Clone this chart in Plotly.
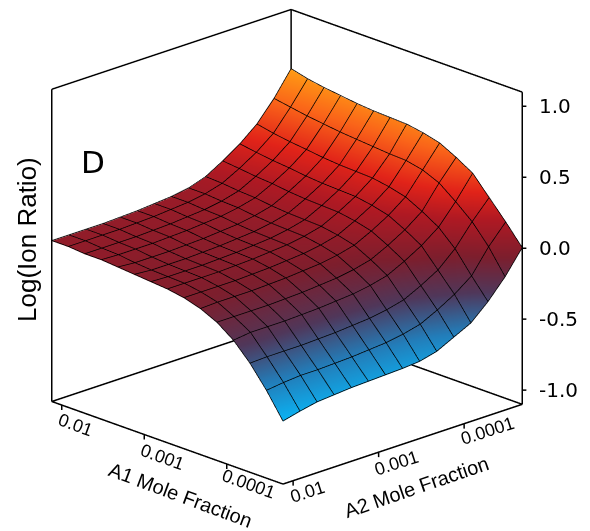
import numpy as np
import plotly.graph_objects as go

A1_LOG = [-1.88,-2.08,-2.28,-2.48,-2.68,-2.88,-3.08,-3.28,-3.48,-3.68,-3.88,-4.08,-4.28,-4.48,-4.68]
A2_LOG = [-1.88,-2.08,-2.28,-2.48,-2.68,-2.88,-3.08,-3.28,-3.48,-3.68,-3.88,-4.08,-4.28,-4.48,-4.68]
# rows: A1 index, columns: A2 index
LOG_RATIO = [
 [.03,.03,.03,.03,.035,.04,.05,.06,.08,.12,.19,.27,.37,.51,.68],
 [.03,.03,.03,.03,.035,.04,.05,.06,.08,.114,.178,.252,.346,.49,.65],
 [.02,.02,.02,.02,.025,.03,.04,.05,.07,.102,.164,.236,.328,.47,.63],
 [.02,.015,.015,.015,.02,.025,.035,.045,.065,.095,.155,.225,.315,.455,.615],
 [.01,0,0,0,.005,.01,.02,.03,.05,.08,.14,.21,.30,.44,.60],
 [0,-.01,-.01,-.01,-.005,0,.01,.02,.04,.07,.13,.20,.29,.43,.59],
 [-.01,-.015,-.015,-.015,-.01,-.005,.005,.015,.035,.065,.125,.195,.285,.42,.585],
 [-.02,-.02,-.02,-.02,-.015,-.01,0,.01,.03,.06,.12,.19,.28,.41,.58],
 [-.04,-.04,-.04,-.04,-.035,-.03,-.02,-.01,.01,.04,.10,.17,.26,.405,.56],
 [-.075,-.07,-.07,-.07,-.065,-.06,-.05,-.04,-.02,.01,.07,.14,.23,.38,.53],
 [-.13,-.13,-.13,-.13,-.125,-.12,-.11,-.10,-.08,-.05,.01,.08,.17,.33,.47],
 [-.215,-.20,-.20,-.20,-.195,-.19,-.18,-.17,-.15,-.12,-.06,.01,.10,.24,.40],
 [-.335,-.33,-.33,-.33,-.325,-.32,-.31,-.30,-.28,-.25,-.19,-.12,-.01,.14,.27],
 [-.485,-.47,-.46,-.46,-.455,-.45,-.44,-.43,-.41,-.38,-.32,-.25,-.16,.005,.14],
 [-.66,-.63,-.605,-.595,-.585,-.58,-.575,-.57,-.56,-.53,-.47,-.41,-.30,-.165,0],
]
TICK_VALS = [-2,-3,-4]
TICK_TEXT = ["0.01","0.001","0.0001"]
Z_TICKS = [-1,-.5,0,.5,1]
Z_TEXT = ["-1.0","-0.5","0.0","0.5","1.0"]
XR = [-4.68,-1.88]; YR = [-4.68,-1.88]; ZR = [-1.1,1.1]
PAD_XY = .03; PAD_Z = .04; Z_TICK_XY = .025; XY_TICK_Z = .035; LIFT = .004
ZOOM = 1.253

COLORS = [[0,"rgb(8,185,250)"],[.17,"rgb(35,125,185)"],[.316,"rgb(80,55,90)"],[.463,"rgb(125,30,45)"],
          [.61,"rgb(175,25,35)"],[.72,"rgb(225,35,25)"],[.868,"rgb(250,100,25)"],[1,"rgb(255,155,20)"]]

z = np.array(LOG_RATIO).T
fig = go.Figure()
fig.add_trace(go.Surface(x=A1_LOG, y=A2_LOG, z=z, colorscale=COLORS, cmin=-.68, cmax=.68, showscale=False,
    lighting=dict(ambient=1,diffuse=0,specular=0,roughness=1,fresnel=0), hoverinfo="skip"))

# mesh lines follow the same grid as the surface
gx,gy,gz=[],[],[]
for i,a1 in enumerate(A1_LOG):
    gx+=[a1]*len(A2_LOG)+[None]; gy+=A2_LOG+[None]; gz+=[v+LIFT for v in LOG_RATIO[i]]+[None]
for j,a2 in enumerate(A2_LOG):
    gx+=A1_LOG+[None]; gy+=[a2]*len(A1_LOG)+[None]; gz+=[row[j]+LIFT for row in LOG_RATIO]+[None]
fig.add_trace(go.Scatter3d(x=gx,y=gy,z=gz,mode="lines",line=dict(color="black",width=1.5),hoverinfo="skip",showlegend=False))

x0,x1=XR; y0,y1=YR; z0,z1=ZR
L=(x1,y1); B=(x1,y0); R=(x0,y0); F=(x0,y1)
segs=[(L,z0,L,z1),(B,z0,B,z1),(R,z0,R,z1),(L,z1,B,z1),(B,z1,R,z1),(L,z0,B,z0),(B,z0,R,z0),(L,z0,F,z0),(F,z0,R,z0)]
for v in TICK_VALS:
    segs.append(((v,y1),z0,(v,y1),z0-XY_TICK_Z))
    segs.append(((x0,v),z0,(x0,v),z0-XY_TICK_Z))
for v in Z_TICKS:
    segs.append((R,v,(x0-Z_TICK_XY,y0-Z_TICK_XY),v))
bx,by,bz=[],[],[]
for a,za,b,zb in segs:
    bx+=[a[0],b[0],None]; by+=[a[1],b[1],None]; bz+=[za,zb,None]
fig.add_trace(go.Scatter3d(x=bx,y=by,z=bz,mode="lines",line=dict(color="black",width=3),hoverinfo="skip",showlegend=False))

anns=[]
tf=dict(family="Liberation Sans",size=18,color="black")
A1_SHIFT=[(14,-20),(18,-22),(22,-20)]
A2_SHIFT=[(14,-11),(18,-11),(23,-7)]
for v,t,s1,s2 in zip(TICK_VALS,TICK_TEXT,A1_SHIFT,A2_SHIFT):
    anns.append(dict(x=v,y=y1,z=z0,text=t,showarrow=False,textangle=20,font=tf,xshift=s1[0],yshift=s1[1]))
    anns.append(dict(x=x0,y=v,z=z0,text=t,showarrow=False,textangle=-18,font=tf,xshift=s2[0],yshift=s2[1]))
for v,t in zip(Z_TICKS,Z_TEXT):
    anns.append(dict(x=x0,y=y0,z=v,text=t,showarrow=False,xanchor="left",xshift=15,font=dict(family="DejaVu Sans",size=20,color="black")))
anns.append(dict(x=-3.28,y=y1,z=z0,text="A1 Mole Fraction",showarrow=False,textangle=20.5,font=dict(family="Liberation Sans",size=20,color="black"),xshift=13,yshift=-52))
anns.append(dict(x=x0,y=-3.28,z=z0,text="A2 Mole Fraction",showarrow=False,textangle=-19,font=dict(family="Liberation Sans",size=20,color="black"),xshift=14,yshift=-43))

DIR=np.array([-.675,.652,.345]); DIR=DIR/np.linalg.norm(DIR)
CENTER=np.array([-.0383,-.0048,-.0662])
EYE=CENTER+DIR*2.2
ax=dict(visible=False)
fig.update_layout(
  width=590,height=531,paper_bgcolor="white",margin=dict(l=0,r=0,t=0,b=0),showlegend=False,
  scene=dict(
    camera=dict(projection=dict(type="orthographic"),
                eye=dict(x=EYE[0],y=EYE[1],z=EYE[2]),center=dict(x=CENTER[0],y=CENTER[1],z=CENTER[2]),up=dict(x=0,y=0,z=1)),
    aspectmode="manual",aspectratio=dict(x=ZOOM*(x1-x0+2*PAD_XY)/(x1-x0),y=ZOOM*(y1-y0+2*PAD_XY)/(y1-y0),z=ZOOM*(z1-z0+2*PAD_Z)/(z1-z0)),
    xaxis=dict(ax,range=[x0-PAD_XY,x1+PAD_XY]),
    yaxis=dict(ax,range=[y0-PAD_XY,y1+PAD_XY]),
    zaxis=dict(ax,range=[z0-PAD_Z,z1+PAD_Z]),
    annotations=anns),
  annotations=[
    dict(xref="paper",yref="paper",x=93/590,y=1-162/531,xanchor="center",yanchor="middle",text="D",showarrow=False,font=dict(family="DejaVu Sans",size=31,color="black")),
    dict(xref="paper",yref="paper",x=27/590,y=1-240/531,xanchor="center",yanchor="middle",text="Log(Ion Ratio)",textangle=-90,showarrow=False,font=dict(family="Liberation Sans",size=26,color="black")),
  ])
fig.write_html("out.html",config=dict(displayModeBar=False),post_script="document.body.style.margin='0';")
